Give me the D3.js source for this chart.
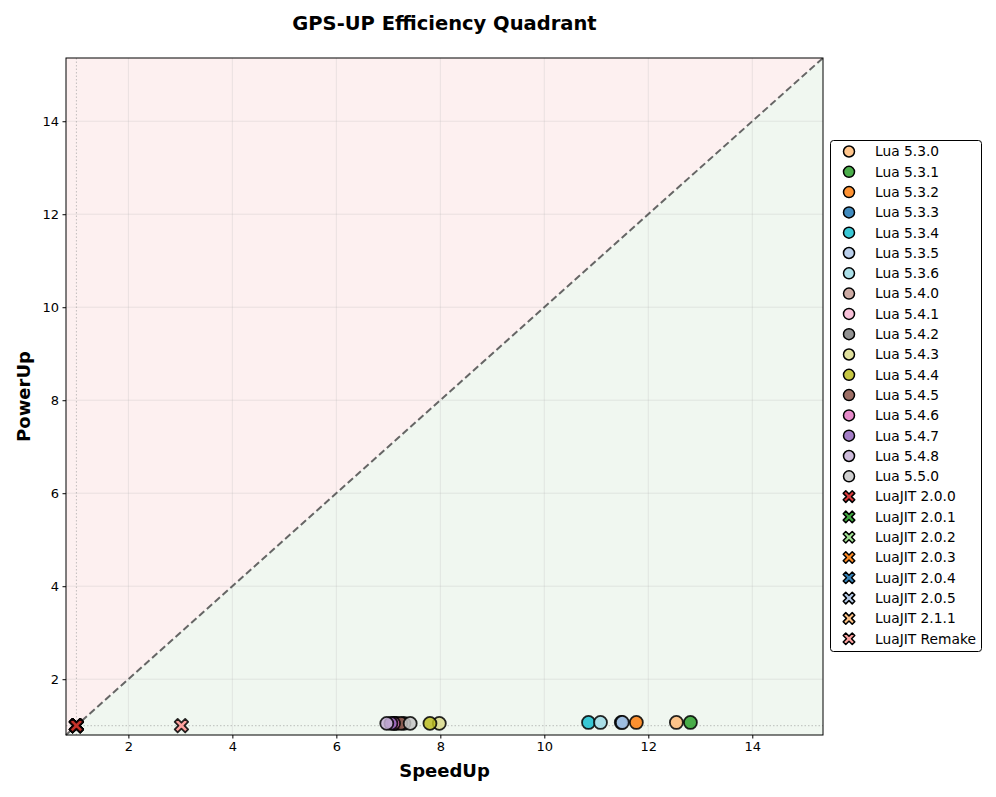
<!DOCTYPE html>
<html><head><meta charset="utf-8">
<script src="https://cdn.jsdelivr.net/npm/d3@7"></script>
<style>body{margin:0;background:#fff;} text{font-family:"DejaVu Sans",sans-serif;}</style>
</head><body>
<svg id="chart" width="996" height="797"></svg>
<script>
const luaNames = ["Lua 5.3.0","Lua 5.3.1","Lua 5.3.2","Lua 5.3.3","Lua 5.3.4","Lua 5.3.5","Lua 5.3.6","Lua 5.4.0","Lua 5.4.1","Lua 5.4.2","Lua 5.4.3","Lua 5.4.4","Lua 5.4.5","Lua 5.4.6","Lua 5.4.7","Lua 5.4.8","Lua 5.5.0"];
const luaSpeedUp = [12.54, 12.81, 11.77, 11.48, 10.85, 11.50, 11.08, 7.16, 7.12, 7.30, 7.98, 7.80, 7.24, 7.10, 7.05, 6.97, 7.42];
const luaPowerUp = [1.07, 1.07, 1.07, 1.07, 1.07, 1.07, 1.07, 1.05, 1.05, 1.05, 1.05, 1.05, 1.05, 1.05, 1.05, 1.05, 1.05];
const luaColors = ["#ffbb78","#2ca02c","#ff7f0e","#1f77b4","#17becf","#aec7e8","#9edae5","#c49c94","#f7b6d2","#7f7f7f","#dbdb8d","#bcbd22","#8c564b","#e377c2","#9467bd","#c5b0d5","#c7c7c7"];
const jitNames = ["LuaJIT 2.0.0","LuaJIT 2.0.1","LuaJIT 2.0.2","LuaJIT 2.0.3","LuaJIT 2.0.4","LuaJIT 2.0.5","LuaJIT 2.1.1","LuaJIT Remake"];
const jitSpeedUp = [1.0, 1.0, 1.0, 1.0, 1.0, 1.0, 1.0, 3.02];
const jitPowerUp = [1.0, 1.0, 1.0, 1.0, 1.0, 1.0, 1.0, 1.0];
const jitColors = ["#d62728","#2ca02c","#98df8a","#ff7f0e","#1f77b4","#aec7e8","#ffbb78","#ff9896"];
const xTicks = [2,4,6,8,10,12,14];
const yTicks = [2,4,6,8,10,12,14];
const domainMin = 0.8, domainMax = 15.36;

const svg = d3.select("#chart");
const L = 66, R = 823, T = 58, B = 735;
const x = d3.scaleLinear().domain([domainMin, domainMax]).range([L, R]);
const y = d3.scaleLinear().domain([domainMin, domainMax]).range([B, T]);

svg.append("polygon").attr("points", [[x(domainMin),y(domainMin)],[x(domainMin),y(domainMax)],[x(domainMax),y(domainMax)]].join(" ")).attr("fill","#fdf0f0");
svg.append("polygon").attr("points", [[x(domainMin),y(domainMin)],[x(domainMax),y(domainMin)],[x(domainMax),y(domainMax)]].join(" ")).attr("fill","#f0f7f0");

const g = svg.append("g");
g.selectAll(".gx").data(xTicks).join("line").attr("x1",d=>x(d)).attr("x2",d=>x(d)).attr("y1",T).attr("y2",B).attr("stroke","#b0b0b0").attr("stroke-opacity",0.3).attr("stroke-width",0.8);
g.selectAll(".gy").data(yTicks).join("line").attr("y1",d=>y(d)).attr("y2",d=>y(d)).attr("x1",L).attr("x2",R).attr("stroke","#b0b0b0").attr("stroke-opacity",0.3).attr("stroke-width",0.8);

svg.append("line").attr("x1",x(1)).attr("x2",x(1)).attr("y1",T).attr("y2",B).attr("stroke","#999").attr("stroke-opacity",0.6).attr("stroke-width",1).attr("stroke-dasharray","1.5,2");
svg.append("line").attr("y1",y(1)).attr("y2",y(1)).attr("x1",L).attr("x2",R).attr("stroke","#999").attr("stroke-opacity",0.6).attr("stroke-width",1).attr("stroke-dasharray","1.5,2");

svg.append("line").attr("x1",x(domainMin)).attr("y1",y(domainMin)).attr("x2",x(domainMax)).attr("y2",y(domainMax)).attr("stroke","#555").attr("stroke-opacity",0.9).attr("stroke-width",2).attr("stroke-dasharray","7,3.5");

function xPath(s){
  const a = s*0.2, b = s*0.5;
  const k = a*0.7071;
  const pts = [[0,-2*k],[b-k,-b-k],[b+k,-b+k],[2*k,0],[b+k,b-k],[b-k,b+k],[0,2*k],[-b+k,b+k],[-b-k,b-k],[-2*k,0],[-b-k,-b+k],[-b+k,-b-k]];
  return "M"+pts.map(p=>p.join(",")).join("L")+"Z";
}

const luaData = luaNames.map((n,i)=>({n, sx:luaSpeedUp[i], py:luaPowerUp[i], c:luaColors[i]}));
svg.append("g").selectAll("circle").data(luaData).join("circle")
  .attr("cx",d=>x(d.sx)).attr("cy",d=>y(d.py)).attr("r",6.5)
  .attr("fill",d=>d.c).attr("fill-opacity",0.85).attr("stroke","#000").attr("stroke-opacity",0.85).attr("stroke-width",1.8);

const jitData = jitNames.map((n,i)=>({n, sx:jitSpeedUp[i], py:jitPowerUp[i], c:jitColors[i]})).reverse();
svg.append("g").selectAll("path").data(jitData).join("path")
  .attr("transform",d=>`translate(${x(d.sx)},${y(d.py)})`).attr("d",xPath(10.5))
  .attr("fill",d=>d.c).attr("fill-opacity",0.9).attr("stroke","#000").attr("stroke-opacity",0.85).attr("stroke-width",1.8).attr("stroke-linejoin","round");

const xAxis = svg.append("g").attr("transform",`translate(0,${B})`).call(d3.axisBottom(x).tickValues(xTicks).tickSize(3.5).tickPadding(3.5).tickSizeOuter(0));
const yAxis = svg.append("g").attr("transform",`translate(${L},0)`).call(d3.axisLeft(y).tickValues(yTicks).tickSize(3.5).tickPadding(3.5).tickSizeOuter(0));
[xAxis,yAxis].forEach(a=>{a.selectAll("text").attr("font-size",13).attr("fill","#000").attr("font-family","DejaVu Sans"); a.select(".domain").remove(); a.selectAll("line").attr("stroke","#000");});

svg.append("rect").attr("x",L).attr("y",T).attr("width",R-L).attr("height",B-T).attr("fill","none").attr("stroke","#000").attr("stroke-width",1);

svg.append("text").attr("x",(L+R)/2).attr("y",30).attr("text-anchor","middle").attr("font-size",19.5).attr("font-weight","bold").text("GPS-UP Efficiency Quadrant");
svg.append("text").attr("x",(L+R)/2).attr("y",777).attr("text-anchor","middle").attr("font-size",18).attr("font-weight","bold").text("SpeedUp");
svg.append("text").attr("transform",`translate(30,${(T+B)/2}) rotate(-90)`).attr("text-anchor","middle").attr("font-size",18).attr("font-weight","bold").text("PowerUp");

const lg = svg.append("g");
lg.append("rect").attr("x",830.5).attr("y",140.5).attr("width",151).attr("height",511).attr("rx",3).attr("fill","#fff").attr("stroke","#000").attr("stroke-width",1);
const legendData = luaData.map(d=>({...d,t:"c"})).concat(jitNames.map((n,i)=>({n,c:jitColors[i],t:"x"})));
const step = 20.3, y0 = 151.5;
legendData.forEach((d,i)=>{
  const yy = y0 + i*step;
  if(d.t==="c"){
    lg.append("circle").attr("cx",849).attr("cy",yy).attr("r",5.5).attr("fill",d.c).attr("fill-opacity",0.85).attr("stroke","#000").attr("stroke-width",1.5);
  } else {
    lg.append("path").attr("transform",`translate(849,${yy})`).attr("d",xPath(9)).attr("fill",d.c).attr("fill-opacity",0.9).attr("stroke","#000").attr("stroke-width",1.5).attr("stroke-linejoin","round");
  }
  lg.append("text").attr("x",875).attr("y",yy).attr("dy","0.35em").attr("font-size",13.8).text(d.n);
});
</script>
</body></html>
